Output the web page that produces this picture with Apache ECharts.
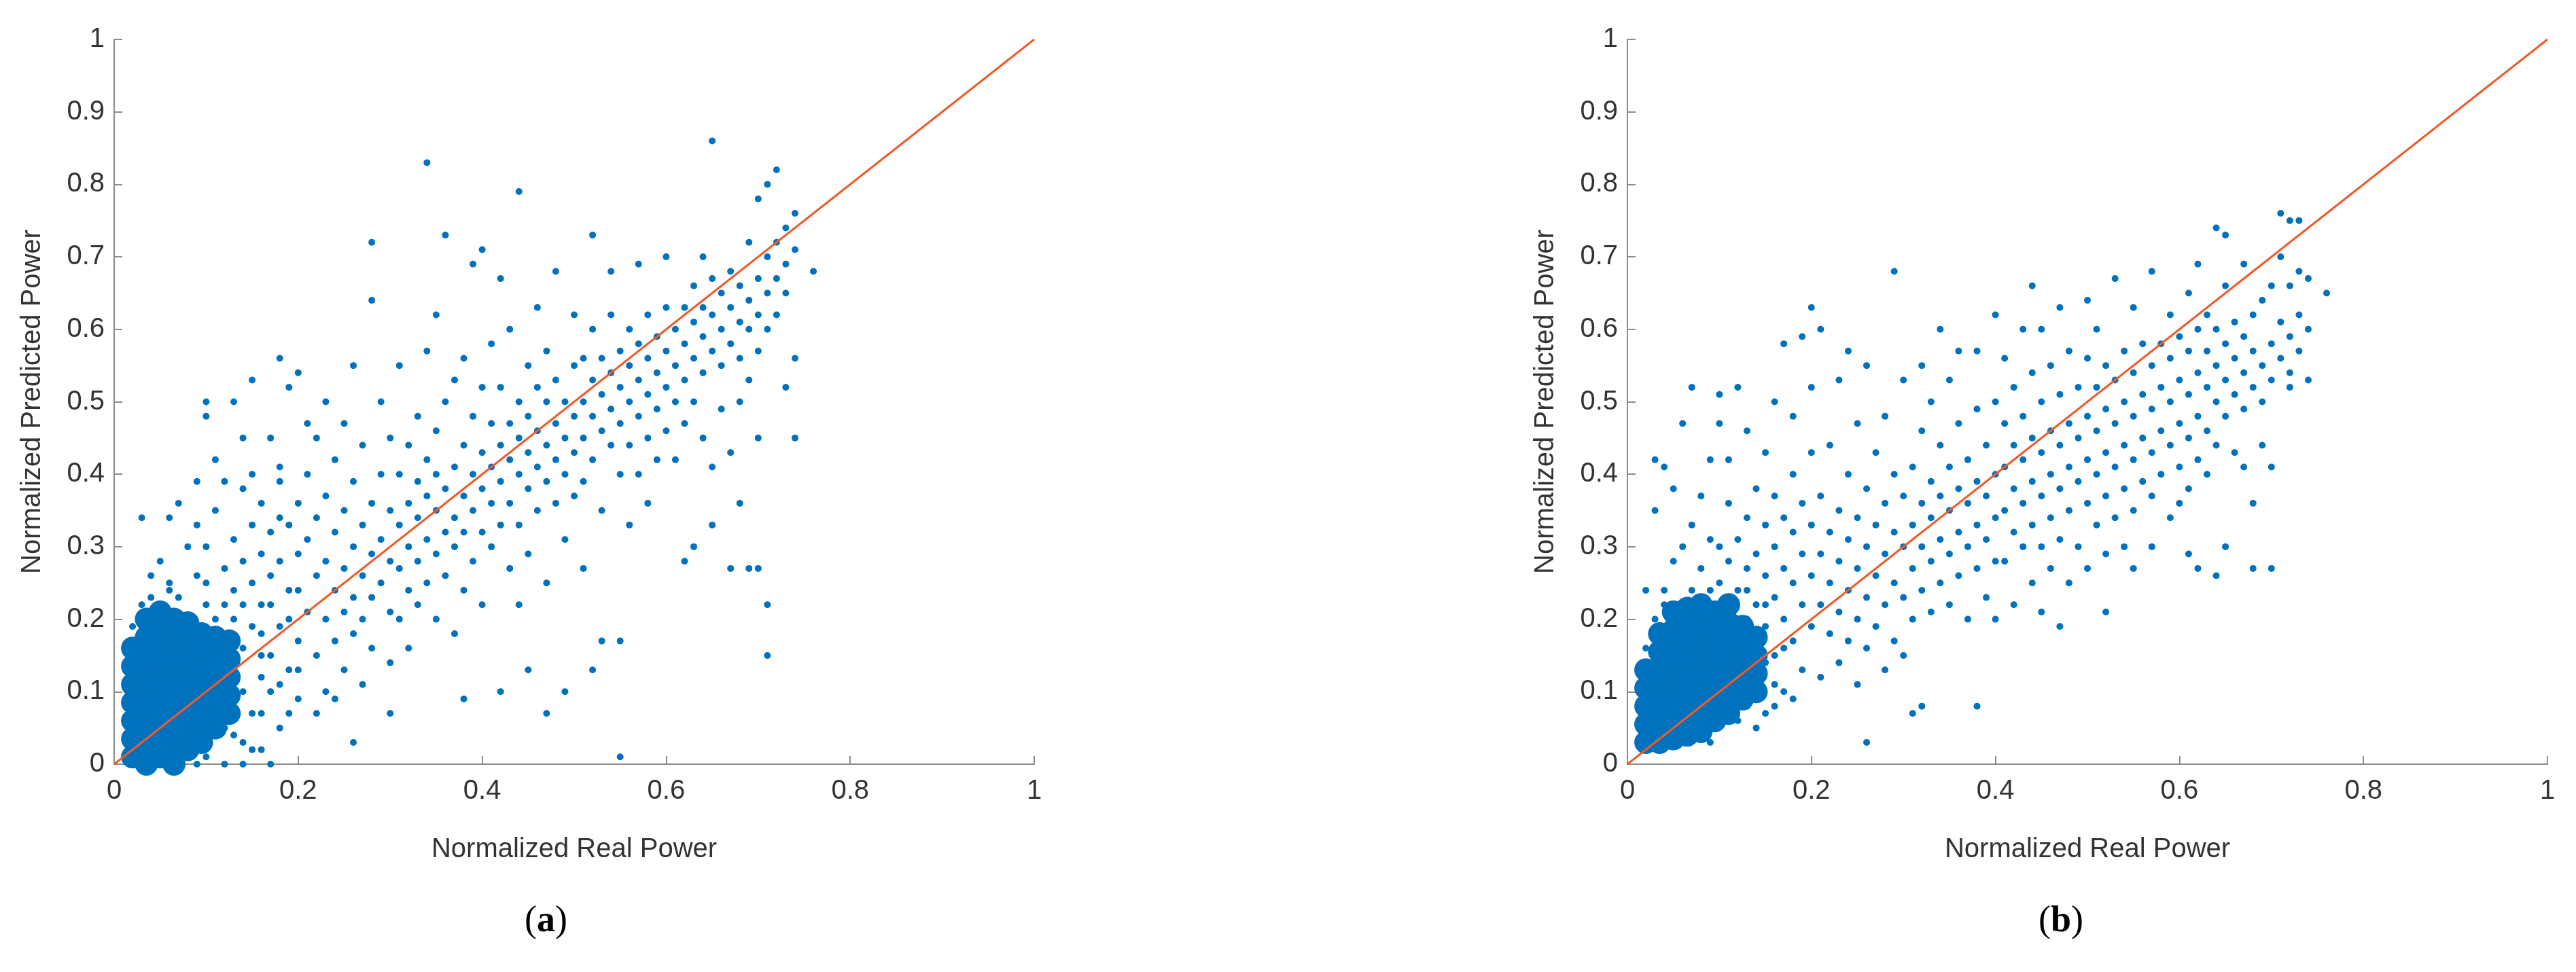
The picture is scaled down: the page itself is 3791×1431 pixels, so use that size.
<!DOCTYPE html>
<html><head><meta charset="utf-8">
<script src="https://cdn.jsdelivr.net/npm/echarts@6/dist/echarts.min.js"></script>
<style>html,body{margin:0;padding:0;background:#fff}#c{width:3791px;height:1431px}</style>
</head><body><div id="c"></div>
<script>
const xTicks=[0,0.2,0.4,0.6,0.8,1];
const yTicks=[0,0.1,0.2,0.3,0.4,0.5,0.6,0.7,0.8,0.9,1];
const diagonal=[[0,0],[1,1]];
const coreA=[
[0.02,0.01],[0.02,0.035],[0.02,0.06],[0.02,0.085],[0.02,0.11],[0.02,0.135],[0.02,0.16],
[0.035,0.0],[0.035,0.025],[0.035,0.05],[0.035,0.075],[0.035,0.1],[0.035,0.125],[0.035,0.15],[0.035,0.175],[0.035,0.2],
[0.05,0.01],[0.05,0.035],[0.05,0.06],[0.05,0.085],[0.05,0.11],[0.05,0.135],[0.05,0.16],[0.05,0.185],[0.05,0.21],
[0.065,0.0],[0.065,0.025],[0.065,0.05],[0.065,0.075],[0.065,0.1],[0.065,0.125],[0.065,0.15],[0.065,0.175],[0.065,0.2],
[0.08,0.02],[0.08,0.045],[0.08,0.07],[0.08,0.095],[0.08,0.12],[0.08,0.145],[0.08,0.17],[0.08,0.195],
[0.095,0.03],[0.095,0.055],[0.095,0.08],[0.095,0.105],[0.095,0.13],[0.095,0.155],[0.095,0.18],
[0.11,0.05],[0.11,0.075],[0.11,0.1],[0.11,0.125],[0.11,0.15],[0.11,0.175],
[0.125,0.07],[0.125,0.095],[0.125,0.12],[0.125,0.145],[0.125,0.17]];
const pointsA=[
[0.1,0.25],[0.1,0.3],[0.11,0.35],[0.12,0.27],[0.12,0.22],[0.13,0.31],[0.13,0.24],[0.13,0.04],[0.14,0.38],[0.14,0.28],[0.14,0.1],[0.15,0.33],[0.15,0.25],[0.15,0.07],[0.16,0.36],[0.16,0.29],[0.16,0.12],[0.16,0.22],[0.17,0.26],[0.17,0.32],[0.17,0.1],[0.17,0.15],[0.18,0.39],[0.18,0.28],[0.18,0.19],[0.18,0.05],[0.19,0.24],[0.19,0.33],[0.19,0.13],[0.2,0.29],[0.2,0.17],[0.2,0.36],[0.2,0.09],[0.08,0.3],[0.07,0.36],[0.09,0.39],[0.05,0.28],[0.06,0.25],[0.04,0.23],[0.11,0.42],[0.13,0.5],[0.15,0.53],[0.12,0.39],[0.09,0.33],[0.15,0.4],[0.17,0.45],[0.19,0.52],[0.2,0.54],[0.18,0.41],[0.14,0.45],[0.16,0.02],[0.12,0.0],[0.1,0.01],[0.14,0.0],[0.16,0.07],[0.18,0.11],[0.19,0.07],[0.2,0.13],
[0.1,0.5],[0.1,0.48],[0.18,0.56],[0.06,0.34],[0.17,0.0],
[0.02,0.19],[0.03,0.22],[0.04,0.26],[0.06,0.24],[0.07,0.23],[0.09,0.26],[0.1,0.22],[0.11,0.2],[0.13,0.2],[0.14,0.03],[0.12,0.05],[0.03,0.34],[0.02,0.0],[0.09,0.0],[0.15,0.02],[0.16,0.15],[0.2,0.24],[0.19,0.2],[0.17,0.22],[0.18,0.34],[0.14,0.16],[0.15,0.19],[0.13,0.14],[0.14,0.22],[0.16,0.18],
[0.21,0.21],[0.21,0.31],[0.21,0.4],[0.22,0.26],[0.22,0.15],[0.22,0.34],[0.22,0.45],[0.23,0.2],[0.23,0.28],[0.23,0.37],[0.23,0.1],[0.24,0.24],[0.24,0.32],[0.24,0.17],[0.24,0.42],[0.25,0.27],[0.25,0.21],[0.25,0.35],[0.25,0.13],[0.25,0.47],[0.26,0.3],[0.26,0.23],[0.26,0.18],[0.26,0.39],[0.26,0.03],[0.27,0.26],[0.27,0.33],[0.27,0.2],[0.27,0.44],[0.27,0.11],[0.28,0.29],[0.28,0.36],[0.28,0.23],[0.28,0.16],[0.28,0.64],[0.28,0.72],[0.29,0.31],[0.29,0.4],[0.29,0.25],[0.29,0.5],[0.3,0.28],[0.3,0.35],[0.3,0.21],[0.3,0.14],[0.3,0.45],[0.3,0.07],[0.24,0.09],[0.22,0.07],[0.26,0.55],[0.23,0.5],[0.21,0.47],
[0.31,0.33],[0.31,0.27],[0.31,0.4],[0.31,0.2],[0.31,0.55],[0.32,0.36],[0.32,0.3],[0.32,0.44],[0.32,0.24],[0.32,0.16],[0.33,0.34],[0.33,0.39],[0.33,0.28],[0.33,0.48],[0.33,0.22],[0.34,0.37],[0.34,0.31],[0.34,0.42],[0.34,0.25],[0.34,0.57],[0.34,0.83],[0.35,0.35],[0.35,0.29],[0.35,0.46],[0.35,0.4],[0.35,0.2],[0.35,0.62],[0.36,0.38],[0.36,0.32],[0.36,0.5],[0.36,0.26],[0.36,0.73],[0.37,0.34],[0.37,0.41],[0.37,0.3],[0.37,0.53],[0.37,0.18],[0.38,0.37],[0.38,0.44],[0.38,0.32],[0.38,0.24],[0.38,0.09],[0.38,0.56],[0.39,0.4],[0.39,0.35],[0.39,0.48],[0.39,0.28],[0.39,0.69],[0.4,0.38],[0.4,0.43],[0.4,0.32],[0.4,0.52],[0.4,0.22],[0.4,0.71],
[0.41,0.41],[0.41,0.36],[0.41,0.47],[0.41,0.3],[0.41,0.58],[0.42,0.44],[0.42,0.39],[0.42,0.33],[0.42,0.52],[0.42,0.1],[0.42,0.67],[0.43,0.42],[0.43,0.47],[0.43,0.36],[0.43,0.27],[0.43,0.6],[0.44,0.45],[0.44,0.4],[0.44,0.5],[0.44,0.33],[0.44,0.79],[0.44,0.22],[0.45,0.43],[0.45,0.48],[0.45,0.38],[0.45,0.55],[0.45,0.13],[0.45,0.29],[0.46,0.46],[0.46,0.41],[0.46,0.52],[0.46,0.35],[0.46,0.63],[0.47,0.44],[0.47,0.5],[0.47,0.39],[0.47,0.07],[0.47,0.57],[0.47,0.25],[0.48,0.47],[0.48,0.42],[0.48,0.53],[0.48,0.36],[0.48,0.68],[0.49,0.45],[0.49,0.5],[0.49,0.4],[0.49,0.1],[0.49,0.31],[0.5,0.48],[0.5,0.43],[0.5,0.55],[0.5,0.37],[0.5,0.62],
[0.51,0.5],[0.51,0.45],[0.51,0.56],[0.51,0.39],[0.51,0.27],[0.52,0.53],[0.52,0.48],[0.52,0.42],[0.52,0.6],[0.52,0.13],[0.52,0.73],[0.53,0.51],[0.53,0.46],[0.53,0.56],[0.53,0.35],[0.53,0.17],[0.54,0.54],[0.54,0.49],[0.54,0.44],[0.54,0.62],[0.54,0.68],[0.55,0.52],[0.55,0.57],[0.55,0.47],[0.55,0.4],[0.55,0.01],[0.55,0.17],[0.56,0.55],[0.56,0.5],[0.56,0.6],[0.56,0.44],[0.56,0.33],[0.57,0.53],[0.57,0.58],[0.57,0.48],[0.57,0.4],[0.57,0.69],[0.58,0.56],[0.58,0.51],[0.58,0.62],[0.58,0.45],[0.58,0.36],[0.59,0.54],[0.59,0.59],[0.59,0.49],[0.59,0.42],[0.6,0.57],[0.6,0.52],[0.6,0.63],[0.6,0.46],[0.6,0.7],
[0.61,0.6],[0.61,0.55],[0.61,0.5],[0.61,0.42],[0.62,0.58],[0.62,0.63],[0.62,0.53],[0.62,0.47],[0.62,0.28],[0.63,0.61],[0.63,0.56],[0.63,0.66],[0.63,0.5],[0.63,0.3],[0.64,0.59],[0.64,0.63],[0.64,0.54],[0.64,0.45],[0.64,0.7],[0.65,0.62],[0.65,0.57],[0.65,0.67],[0.65,0.41],[0.65,0.86],[0.65,0.33],[0.66,0.6],[0.66,0.65],[0.66,0.55],[0.66,0.49],[0.67,0.63],[0.67,0.58],[0.67,0.68],[0.67,0.43],[0.67,0.27],[0.68,0.61],[0.68,0.66],[0.68,0.56],[0.68,0.5],[0.68,0.36],[0.69,0.64],[0.69,0.6],[0.69,0.72],[0.69,0.27],[0.7,0.62],[0.7,0.67],[0.7,0.57],[0.7,0.78],[0.7,0.27],[0.71,0.65],[0.71,0.7],[0.71,0.6],[0.71,0.15],[0.71,0.22],[0.71,0.8],[0.72,0.67],[0.72,0.72],[0.72,0.62],[0.72,0.82],[0.73,0.69],[0.73,0.74],[0.73,0.65],[0.73,0.52],[0.74,0.71],[0.74,0.76],[0.74,0.45],[0.74,0.56],[0.76,0.68],[0.69,0.53],[0.7,0.45]];
const coreB=[
[0.02,0.03],[0.02,0.055],[0.02,0.08],[0.02,0.105],[0.02,0.13],
[0.035,0.03],[0.035,0.055],[0.035,0.08],[0.035,0.105],[0.035,0.13],[0.035,0.155],[0.035,0.18],
[0.05,0.035],[0.05,0.06],[0.05,0.085],[0.05,0.11],[0.05,0.135],[0.05,0.16],[0.05,0.185],[0.05,0.21],
[0.065,0.04],[0.065,0.065],[0.065,0.09],[0.065,0.115],[0.065,0.14],[0.065,0.165],[0.065,0.19],[0.065,0.215],
[0.08,0.045],[0.08,0.07],[0.08,0.095],[0.08,0.12],[0.08,0.145],[0.08,0.17],[0.08,0.195],[0.08,0.22],
[0.095,0.06],[0.095,0.085],[0.095,0.11],[0.095,0.135],[0.095,0.16],[0.095,0.185],[0.095,0.21],
[0.11,0.07],[0.11,0.095],[0.11,0.12],[0.11,0.145],[0.11,0.17],[0.11,0.195],[0.11,0.22],
[0.125,0.09],[0.125,0.115],[0.125,0.14],[0.125,0.165],[0.125,0.19],
[0.14,0.1],[0.14,0.125],[0.14,0.15],[0.14,0.175]];
const pointsB=[
[0.1,0.25],[0.1,0.3],[0.1,0.2],[0.1,0.47],[0.11,0.28],[0.11,0.36],[0.11,0.42],[0.12,0.24],[0.12,0.31],[0.12,0.52],[0.13,0.27],[0.13,0.34],[0.13,0.2],[0.13,0.46],[0.14,0.29],[0.14,0.22],[0.14,0.38],[0.14,0.12],[0.15,0.26],[0.15,0.33],[0.15,0.19],[0.15,0.43],[0.15,0.07],[0.16,0.3],[0.16,0.23],[0.16,0.37],[0.16,0.15],[0.16,0.5],[0.17,0.27],[0.17,0.34],[0.17,0.2],[0.17,0.1],[0.17,0.58],[0.18,0.32],[0.18,0.25],[0.18,0.4],[0.18,0.17],[0.18,0.48],[0.19,0.29],[0.19,0.36],[0.19,0.22],[0.19,0.13],[0.19,0.59],[0.2,0.33],[0.2,0.26],[0.2,0.43],[0.2,0.19],[0.2,0.52],[0.2,0.63],
[0.05,0.28],[0.06,0.3],[0.04,0.24],[0.08,0.27],[0.07,0.33],[0.03,0.35],[0.03,0.42],[0.04,0.41],[0.06,0.47],[0.07,0.52],[0.09,0.42],[0.08,0.37],[0.05,0.38],[0.09,0.31],[0.1,0.51],[0.02,0.24],[0.03,0.2],[0.06,0.22],[0.09,0.24],[0.07,0.04],[0.09,0.03],[0.12,0.06],[0.14,0.05],[0.16,0.08],[0.18,0.09],[0.02,0.16],[0.04,0.22],[0.07,0.24],[0.12,0.2],[0.13,0.08],[0.15,0.14],[0.16,0.11],[0.17,0.16],[0.15,0.22],[0.13,0.24],
[0.21,0.29],[0.21,0.22],[0.21,0.37],[0.21,0.12],[0.21,0.6],[0.22,0.32],[0.22,0.25],[0.22,0.18],[0.22,0.44],[0.23,0.28],[0.23,0.35],[0.23,0.21],[0.23,0.14],[0.23,0.53],[0.24,0.31],[0.24,0.24],[0.24,0.4],[0.24,0.17],[0.24,0.57],[0.25,0.27],[0.25,0.34],[0.25,0.2],[0.25,0.47],[0.25,0.11],[0.26,0.3],[0.26,0.23],[0.26,0.38],[0.26,0.16],[0.26,0.03],[0.26,0.55],[0.27,0.33],[0.27,0.26],[0.27,0.43],[0.27,0.19],[0.28,0.29],[0.28,0.36],[0.28,0.22],[0.28,0.48],[0.28,0.13],[0.29,0.32],[0.29,0.25],[0.29,0.4],[0.29,0.68],[0.29,0.17],[0.3,0.3],[0.3,0.37],[0.3,0.23],[0.3,0.53],[0.3,0.15],
[0.31,0.33],[0.31,0.27],[0.31,0.41],[0.31,0.2],[0.31,0.07],[0.32,0.36],[0.32,0.3],[0.32,0.24],[0.32,0.46],[0.32,0.55],[0.32,0.08],[0.33,0.34],[0.33,0.28],[0.33,0.39],[0.33,0.21],[0.33,0.5],[0.34,0.37],[0.34,0.31],[0.34,0.25],[0.34,0.44],[0.34,0.6],[0.35,0.35],[0.35,0.29],[0.35,0.41],[0.35,0.22],[0.35,0.53],[0.36,0.38],[0.36,0.32],[0.36,0.26],[0.36,0.47],[0.36,0.57],[0.37,0.36],[0.37,0.3],[0.37,0.42],[0.37,0.2],[0.38,0.39],[0.38,0.33],[0.38,0.27],[0.38,0.49],[0.38,0.08],[0.38,0.57],[0.39,0.37],[0.39,0.31],[0.39,0.44],[0.39,0.23],[0.4,0.4],[0.4,0.34],[0.4,0.28],[0.4,0.5],[0.4,0.62],[0.4,0.2],
[0.41,0.41],[0.41,0.35],[0.41,0.47],[0.41,0.28],[0.41,0.56],[0.42,0.44],[0.42,0.38],[0.42,0.32],[0.42,0.52],[0.42,0.22],[0.43,0.42],[0.43,0.36],[0.43,0.48],[0.43,0.3],[0.43,0.6],[0.44,0.45],[0.44,0.39],[0.44,0.33],[0.44,0.54],[0.44,0.66],[0.44,0.25],[0.45,0.43],[0.45,0.37],[0.45,0.5],[0.45,0.3],[0.45,0.6],[0.45,0.21],[0.46,0.46],[0.46,0.4],[0.46,0.34],[0.46,0.55],[0.46,0.27],[0.47,0.44],[0.47,0.38],[0.47,0.51],[0.47,0.31],[0.47,0.63],[0.47,0.19],[0.48,0.47],[0.48,0.41],[0.48,0.35],[0.48,0.57],[0.48,0.25],[0.49,0.45],[0.49,0.39],[0.49,0.52],[0.49,0.3],[0.5,0.48],[0.5,0.42],[0.5,0.36],[0.5,0.56],[0.5,0.64],[0.5,0.27],
[0.51,0.46],[0.51,0.4],[0.51,0.52],[0.51,0.33],[0.51,0.6],[0.52,0.49],[0.52,0.43],[0.52,0.37],[0.52,0.55],[0.52,0.21],[0.52,0.29],[0.53,0.47],[0.53,0.41],[0.53,0.53],[0.53,0.34],[0.53,0.67],[0.54,0.5],[0.54,0.44],[0.54,0.38],[0.54,0.57],[0.54,0.3],[0.55,0.48],[0.55,0.42],[0.55,0.54],[0.55,0.35],[0.55,0.63],[0.55,0.27],[0.56,0.51],[0.56,0.45],[0.56,0.39],[0.56,0.58],[0.57,0.49],[0.57,0.43],[0.57,0.55],[0.57,0.37],[0.57,0.3],[0.57,0.68],[0.58,0.52],[0.58,0.46],[0.58,0.58],[0.58,0.4],[0.59,0.5],[0.59,0.44],[0.59,0.56],[0.59,0.62],[0.59,0.34],[0.6,0.53],[0.6,0.47],[0.6,0.41],[0.6,0.59],[0.6,0.36],
[0.61,0.51],[0.61,0.45],[0.61,0.57],[0.61,0.38],[0.61,0.29],[0.61,0.65],[0.62,0.54],[0.62,0.48],[0.62,0.6],[0.62,0.42],[0.62,0.27],[0.62,0.69],[0.63,0.52],[0.63,0.46],[0.63,0.57],[0.63,0.4],[0.63,0.62],[0.64,0.55],[0.64,0.5],[0.64,0.6],[0.64,0.44],[0.64,0.74],[0.64,0.26],[0.65,0.53],[0.65,0.48],[0.65,0.58],[0.65,0.3],[0.65,0.73],[0.65,0.66],[0.66,0.56],[0.66,0.51],[0.66,0.61],[0.66,0.43],[0.67,0.54],[0.67,0.49],[0.67,0.59],[0.67,0.41],[0.67,0.69],[0.68,0.57],[0.68,0.52],[0.68,0.62],[0.68,0.36],[0.68,0.27],[0.69,0.55],[0.69,0.5],[0.69,0.64],[0.69,0.44],[0.7,0.58],[0.7,0.53],[0.7,0.66],[0.7,0.27],[0.7,0.41],[0.71,0.56],[0.71,0.61],[0.71,0.7],[0.71,0.76],[0.72,0.59],[0.72,0.54],[0.72,0.66],[0.72,0.75],[0.72,0.52],[0.73,0.62],[0.73,0.68],[0.73,0.57],[0.73,0.75],[0.74,0.67],[0.74,0.6],[0.74,0.53],[0.76,0.65]];

const BLUE='#0072BD', ORANGE='#F05A28', AX='#8c8c8c', TXT='#333';
const font='"Liberation Sans", Arial, sans-serif';
function xAxis(i){return {gridIndex:i,type:'value',min:0,max:1,interval:0.2,name:'Normalized Real Power',nameLocation:'middle',nameGap:106,
 nameTextStyle:{fontSize:40,color:TXT,fontFamily:font},
 axisLine:{show:true,lineStyle:{color:AX,width:2}},axisTick:{show:true,inside:true,length:12,lineStyle:{color:AX,width:2}},
 axisLabel:{fontSize:40,color:TXT,fontFamily:font,margin:20,formatter:v=>String(+v.toFixed(1))},splitLine:{show:false}};}
function yAxis(i){return {gridIndex:i,type:'value',min:0,max:1,interval:0.1,name:'Normalized Predicted Power',nameLocation:'middle',nameGap:100,
 nameTextStyle:{fontSize:40,color:TXT,fontFamily:font},
 axisLine:{show:true,lineStyle:{color:AX,width:2}},axisTick:{show:true,inside:true,length:12,lineStyle:{color:AX,width:2}},
 axisLabel:{fontSize:40,color:TXT,fontFamily:font,margin:14,formatter:v=>String(+v.toFixed(1))},splitLine:{show:false}};}
const chart=echarts.init(document.getElementById('c'),null,{renderer:'canvas'});
const core={symbolSize:34,itemStyle:{color:BLUE,opacity:1}};
const small={symbolSize:10,itemStyle:{color:BLUE,opacity:1}};
chart.setOption({
 animation:false,backgroundColor:'#fff',
 grid:[{left:168,right:2269,top:58,bottom:306},{left:2395,right:42,top:58,bottom:306}],
 xAxis:[xAxis(0),xAxis(1)],yAxis:[yAxis(0),yAxis(1)],
 series:[
  Object.assign({type:'scatter',xAxisIndex:0,yAxisIndex:0,data:coreA},core),
  Object.assign({type:'scatter',xAxisIndex:0,yAxisIndex:0,data:pointsA},small),
  {type:'line',xAxisIndex:0,yAxisIndex:0,data:diagonal,symbol:'none',lineStyle:{color:ORANGE,width:3},z:5},
  Object.assign({type:'scatter',xAxisIndex:1,yAxisIndex:1,data:coreB},core),
  Object.assign({type:'scatter',xAxisIndex:1,yAxisIndex:1,data:pointsB},small),
  {type:'line',xAxisIndex:1,yAxisIndex:1,data:diagonal,symbol:'none',lineStyle:{color:ORANGE,width:3},z:5}
 ],
 graphic:[
  {type:'text',left:772,top:1330,style:{text:'({b|a})',rich:{b:{fontWeight:'bold',fontSize:54,fontFamily:'"Liberation Serif", serif',fill:'#000'}},fontSize:54,fontFamily:'"Liberation Serif", serif',fill:'#000'}},
  {type:'text',left:3000,top:1330,style:{text:'({b|b})',rich:{b:{fontWeight:'bold',fontSize:54,fontFamily:'"Liberation Serif", serif',fill:'#000'}},fontSize:54,fontFamily:'"Liberation Serif", serif',fill:'#000'}}
 ]
});
</script></body></html>
